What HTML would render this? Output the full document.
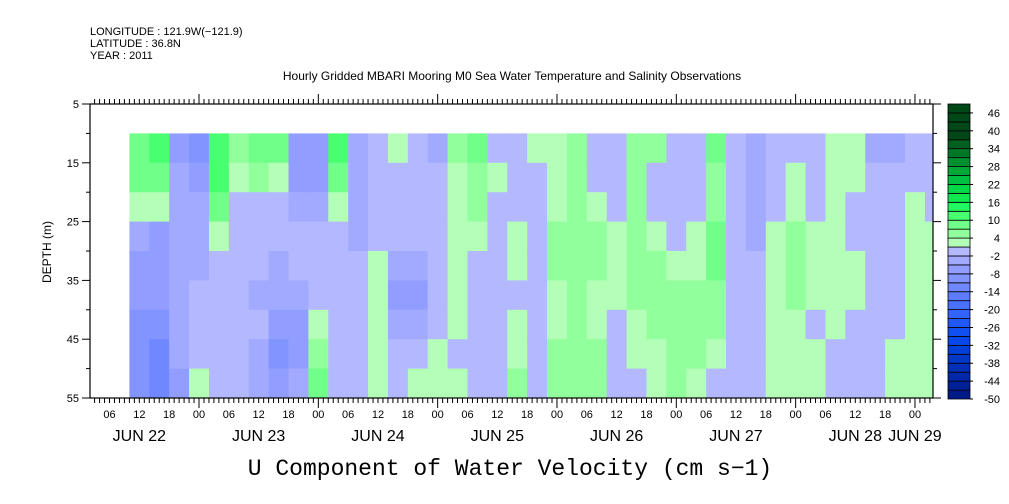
<!DOCTYPE html>
<html><head><meta charset="utf-8"><style>
body{margin:0;background:#fff;}
svg{display:block;font-family:"Liberation Sans",sans-serif;}
</style></head><body>
<svg id="chart" width="1009" height="504" viewBox="0 0 1009 504" xmlns="http://www.w3.org/2000/svg">
<text x="90" y="35" font-size="11">LONGITUDE : 121.9W(−121.9)</text>
<text x="90" y="47" font-size="11">LATITUDE : 36.8N</text>
<text x="90" y="59" font-size="11">YEAR : 2011</text>
<text x="512" y="80" font-size="12" text-anchor="middle">Hourly Gridded MBARI Mooring M0 Sea Water Temperature and Salinity Observations</text>
<text x="510" y="475" font-size="23" font-family="Liberation Mono, monospace" text-anchor="middle">U Component of Water Velocity (cm s−1)</text>
<text transform="translate(51,252) rotate(-90)" font-size="12" text-anchor="middle">DEPTH (m)</text>
<g id="heat"></g>
<g id="axes"></g>
<g id="cbar"></g>
</svg>
<script>
// time of first column (hours since Jun 22 00:00), step 4 h
const colStartHours = [10,14,18,22,26,30,34,38,42,46,50,54,58,62,66,70,74,78,82,86,90,94,98,102,106,110,114,118,122,126,130,134,138,142,146,150,154,158,162,166,170];
const depthTops = [10,15,20,25,30,35,40,45,50];
// values[col] = velocity (cm/s) per depth row, top to bottom
const values = [
[8,8,3,-5,-8,-8,-11,-11,-11],
[10,8,3,-8,-8,-8,-11,-14,-14],
[-8,-5,-5,-5,-5,-3,-3,-5,-8],
[-11,-8,-5,-5,-5,-2,-2,0,2],
[12,12,8,3,0,-2,-2,-2,0],
[5,2,-2,-2,0,-2,-2,-2,-2],
[8,5,-2,-2,-2,-5,-2,-5,-5],
[8,3,-2,-2,-5,-5,-8,-11,-8],
[-8,-8,-5,-2,-2,-5,-8,-8,-5],
[-8,-8,-5,-2,-2,0,2,5,8],
[12,8,3,-2,-2,-2,-2,-2,-2],
[-5,-5,-3,-5,-2,0,-2,-2,0],
[-2,-2,-2,0,2,2,2,2,2],
[2,0,-2,-2,-5,-8,-5,-2,-2],
[-2,-2,-2,-2,-5,-8,-5,-2,2],
[-5,-2,-2,-2,-2,-2,-2,2,2],
[5,3,2,2,2,2,2,-2,2],
[8,5,5,3,-2,-2,-2,-2,-2],
[-2,2,-2,-2,-2,-2,-2,-2,-2],
[-2,-2,-2,2,2,-2,2,3,5],
[3,-2,-2,-2,-2,-2,-2,-2,-2],
[2,2,2,5,5,2,2,5,5],
[5,5,5,5,5,5,5,5,5],
[-2,-2,2,5,5,2,2,5,5],
[-2,-2,-2,2,2,2,-2,-2,-2],
[5,5,5,5,5,5,2,2,-2],
[5,-2,-2,2,5,5,5,2,2],
[-2,-2,-2,-2,2,5,5,5,5],
[-2,-2,-2,2,2,5,5,5,3],
[8,5,5,8,8,5,5,2,-2],
[-2,-2,-2,-2,-2,-2,-2,-2,-2],
[-5,-5,-5,-5,-2,-2,-2,-2,-2],
[-2,-2,-2,3,3,2,2,2,2],
[-2,2,2,5,5,5,2,2,3],
[-2,-2,-2,2,3,2,-2,3,3],
[3,2,2,2,2,3,2,-2,-2],
[3,2,-2,-2,2,2,-2,-2,-2],
[-5,-2,-2,-2,-2,-2,-2,-2,-2],
[-5,-2,-2,-2,-2,-2,-2,2,2],
[-2,-2,2,2,2,2,2,2,3],
[-2,-2,-2,2,3,3,3,3,3]
];
const levelLabels = [46,40,34,28,22,16,10,4,-2,-8,-14,-20,-26,-32,-38,-44,-50];
const depthTicks = [5,15,25,35,45,55];
const dayNames = ["JUN 22","JUN 23","JUN 24","JUN 25","JUN 26","JUN 27","JUN 28","JUN 29"];

const NS="http://www.w3.org/2000/svg";
const X0=90,X1=933,Y0=104,Y1=398;
const hx=h=>199+(h-24)*4.972;
const dy=d=>Y0+(d-5)*(Y1-Y0)/50;
const H0=(X0-199)/4.972+24, H1=(X1-199)/4.972+24;
function mk(tag,attrs,parent){const e=document.createElementNS(NS,tag);for(const k in attrs)e.setAttribute(k,attrs[k]);parent.appendChild(e);return e;}
const pal=["#000050","#000a68","#001278","#001a88","#002098","#0028a8","#0030b8","#0038c8","#0040d8","#0848e8","#1050f0","#2058f8","#3464ff","#4a70ff","#5e7cff","#7088ff","#8294ff","#929eff","#a2aaff","#b4b8ff",
"#b4ffb8","#90ff9c","#70ff88","#48ff70","#20f860","#10e850","#00d848","#00c040","#00a838","#009030","#007828","#006020","#004818"];
function color(v){let b=Math.floor((v+50)/3);b=Math.max(0,Math.min(32,b));
 const idx=b+3; return pal[Math.max(0,Math.min(pal.length-1,idx))];}
const heat=document.getElementById('heat');
const clip=mk('clipPath',{id:'pc'},document.getElementById('chart'));
mk('rect',{x:X0,y:Y0,width:X1-X0,height:Y1-Y0},clip);
heat.setAttribute('clip-path','url(#pc)');
colStartHours.forEach((h,i)=>{
  depthTops.forEach((d,j)=>{
    const r=mk('rect',{x:hx(h),y:dy(d),width:4*4.972+0.6,height:dy(d+5)-dy(d)+0.6,fill:color(values[i][j])},heat);
    
    
  });
});
const ax=document.getElementById('axes');
mk('rect',{x:X0,y:Y0,width:X1-X0,height:Y1-Y0,fill:'none',stroke:'#000','stroke-width':1.2},ax);
for(let d=5;d<=55;d+=5){const y=dy(d);const major=(d%10===5);
 mk('line',{x1:X0-(major?8:4),x2:X0,y1:y,y2:y,stroke:'#000'},ax);
 mk('line',{x1:X1,x2:X1+(major?8:4),y1:y,y2:y,stroke:'#000'},ax);}
depthTicks.forEach(d=>{const t=mk('text',{x:X0-11,y:dy(d)+4,'font-size':11,'text-anchor':'end'},ax);t.textContent=d;
 
 });
for(let h=Math.ceil(H0);h<=H1;h++){const x=hx(h);const maj=h%24===0;
 mk('line',{x1:x,x2:x,y1:Y0,y2:Y0-(maj?10:5),stroke:'#000'},ax);
 mk('line',{x1:x,x2:x,y1:Y1,y2:Y1+(maj?10:5),stroke:'#000'},ax);
 if(h%6===0){const t=mk('text',{x:x,y:418,'font-size':11,'text-anchor':'middle'},ax);
  t.textContent=String(h%24).padStart(2,'0');
  
  }}
dayNames.forEach((n,i)=>{let h=i*24+12;if(h>H1)h=i*24;
 const t=mk('text',{x:hx(h),y:441,'font-size':16,'text-anchor':'middle'},ax);t.textContent=n;
 
 });
const cb=document.getElementById('cbar');
const CBX=948,CBW=22,CBT=104,CBB=399,nb=33,bh=(CBB-CBT)/nb;
for(let b=0;b<nb;b++){const v=-50+b*3+1.5;
 const r=mk('rect',{x:CBX,y:CBB-(b+1)*bh,width:CBW,height:bh,fill:color(v),stroke:'#000','stroke-width':0.8},cb);
 
 }
levelLabels.forEach(l=>{const y=CBB-((l+50)/3)*bh;
 mk('line',{x1:CBX+CBW,x2:CBX+CBW+3,y1:y,y2:y,stroke:'#000'},cb);
 const t=mk('text',{x:1000,y:y+4,'font-size':11,'text-anchor':'end'},cb);t.textContent=l;
 
 });
</script>
</body></html>
